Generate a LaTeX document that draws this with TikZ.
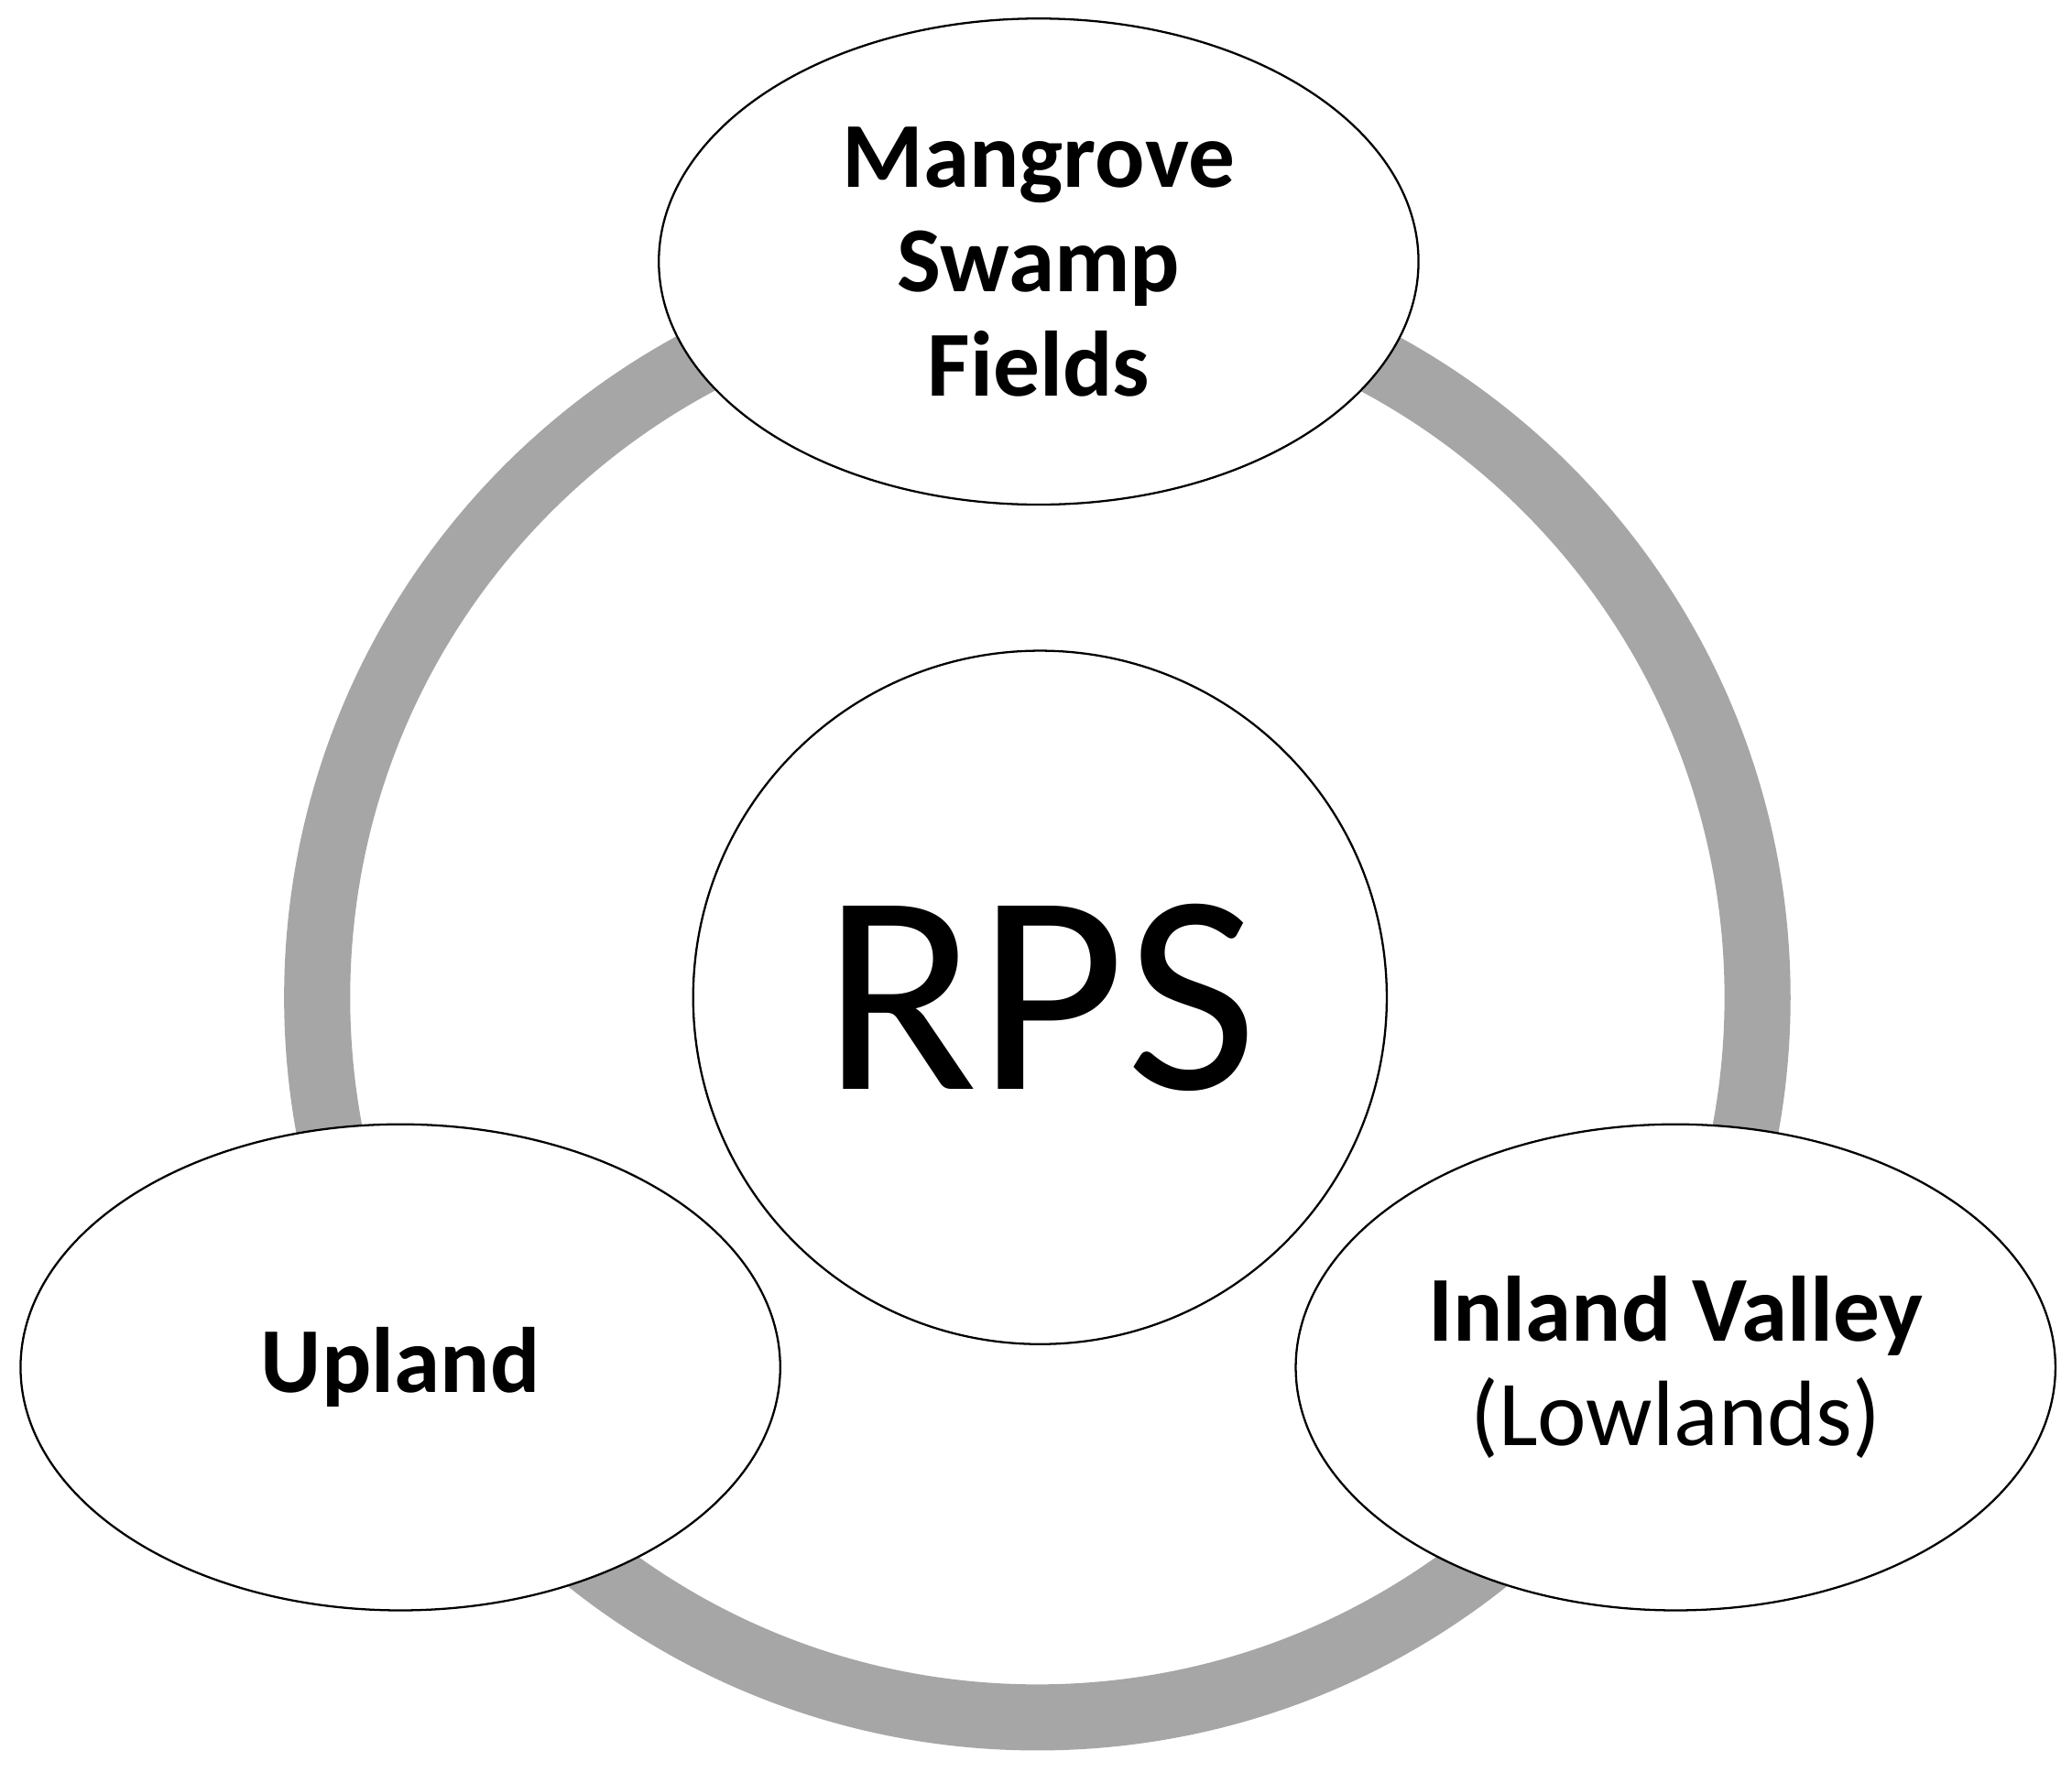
\documentclass[tikz,border=0pt]{standalone}
\usepackage{fontspec}
\setmainfont{Carlito}
\usetikzlibrary{shapes.geometric}
\begin{document}
\begin{tikzpicture}[x=0.02cm,y=-0.02cm,
  ell/.style={ellipse,draw=black,line width=0.9pt,fill=white,minimum width=11.5cm,minimum height=7.36cm,inner sep=0pt,align=center,font=\fontsize{40}{45}\selectfont},
  ring/.style={draw=black!35,line width=1cm}]
\useasboundingbox (0,0) rectangle (1568,1341);
\fill[white] (0,0) rectangle (1568,1341);
\coordinate (c) at (785,755);
\draw[ring] (c) circle (0.02*545cm);
\node[circle,draw=black,line width=0.9pt,fill=white,minimum size=10.5cm,inner sep=0pt,font=\fontsize{123}{130}\selectfont] (rps) at (787,755) {RPS};
\node[ell] (top) at (786,198) {\textbf{Mangrove}\\\textbf{Swamp}\\\textbf{Fields}};
\node[ell] (up) at (303,1035) {\textbf{Upland}};
\node[ell] (in) at (1268,1035) {\textbf{Inland Valley}\\(Lowlands)};
\end{tikzpicture}
\end{document}
